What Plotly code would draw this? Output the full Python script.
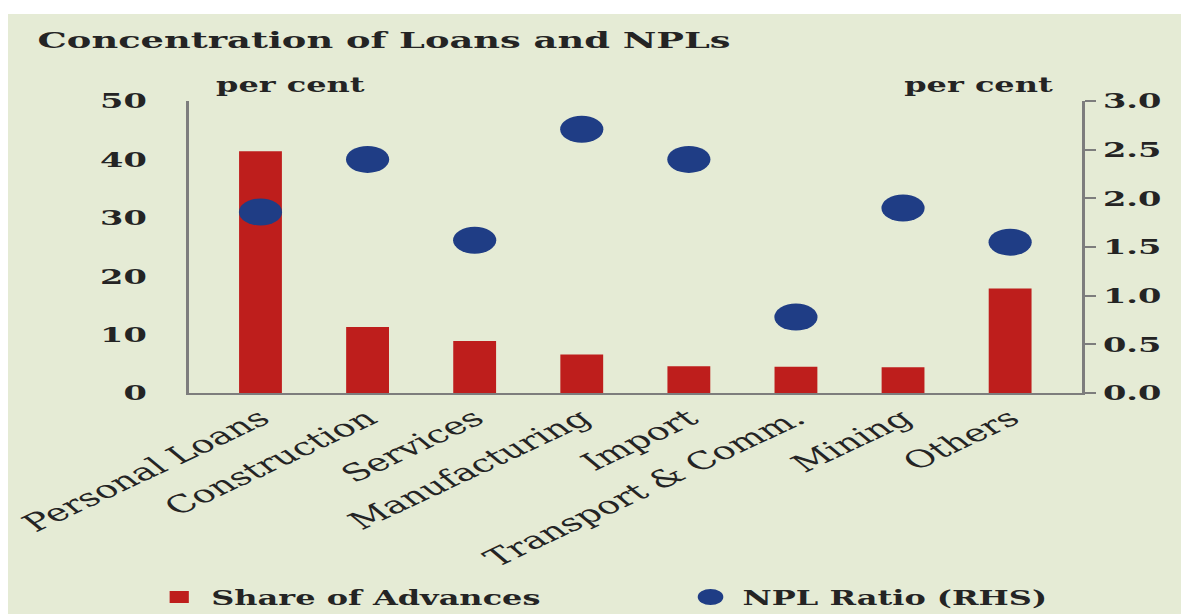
import plotly.graph_objects as go

# Sector data (per cent)
categories = ["Personal Loans", "Construction", "Services", "Manufacturing",
              "Import", "Transport & Comm.", "Mining", "Others"]
share_of_advances = [41.4, 11.3, 8.9, 6.6, 4.6, 4.5, 4.4, 17.9]
npl_ratio = [1.86, 2.40, 1.57, 2.71, 2.40, 0.78, 1.90, 1.55]

left_ticks = [0, 10, 20, 30, 40, 50]
right_ticks = [0.0, 0.5, 1.0, 1.5, 2.0, 2.5, 3.0]

# Page geometry: the chart is laid out narrow and widened horizontally
PAGE_W, PAGE_H = 1181, 614
SX = 1.6
W = round(PAGE_W / SX)

FONT = "DejaVu Serif"
TXT = "#242424"
AXIS = "#7d7d7d"
BG = "#E5EBD5"
RED = "#BE1E1C"
BLUE = "#1F3D85"

L, R, T, B = 118, W - 676, 101, PAGE_H - 393
pw = W - L - R
ph = PAGE_H - T - B


def px_x(x):
    return (x - L) / pw


def px_y(y):
    return (PAGE_H - B - y) / ph


fig = go.Figure()

fig.add_trace(go.Bar(
    x=categories, y=share_of_advances, name="Share of Advances",
    marker=dict(color=RED, line=dict(width=0)),
    yaxis="y", legend="legend", showlegend=True,
))

fig.add_trace(go.Scatter(
    x=categories, y=npl_ratio, name="NPL Ratio (RHS)", mode="markers",
    marker=dict(color=BLUE, size=27, line=dict(width=0)),
    yaxis="y2", legend="legend2", showlegend=True,
))

legend_font = dict(family=FONT, size=20, color=TXT, weight="bold")

fig.update_layout(
    width=W, height=PAGE_H,
    margin=dict(l=L, r=R, t=T, b=B, pad=0, autoexpand=False),
    paper_bgcolor="white",
    plot_bgcolor="rgba(0,0,0,0)",
    font=dict(family=FONT, color=TXT),
    bargap=0.6,
    showlegend=True,
    title=dict(
        text="<b>Concentration of Loans and NPLs</b>",
        x=23.5 / W, xanchor="left", xref="container",
        y=1 - 40 / PAGE_H, yanchor="middle", yref="container",
        font=dict(family=FONT, size=23, color=TXT),
    ),
    xaxis=dict(
        showline=True, linecolor=AXIS, linewidth=2, automargin=False,
        ticks="", showgrid=False, tickangle=-37,
        tickfont=dict(family=FONT, size=24, color=TXT),
    ),
    yaxis=dict(
        range=[0, 50], tickvals=left_ticks, automargin=False,
        showline=True, linecolor=AXIS, linewidth=2,
        ticks="", showgrid=False, zeroline=False,
        ticklabelstandoff=20,
        tickfont=dict(family=FONT, size=21, color=TXT, weight="bold"),
    ),
    yaxis2=dict(
        range=[0, 3], tickvals=right_ticks, tickformat=".1f",
        overlaying="y", side="right", automargin=False,
        showline=True, linecolor=AXIS, linewidth=2,
        ticks="outside", ticklen=7, tickwidth=2, tickcolor=AXIS,
        showgrid=False, zeroline=False,
        tickfont=dict(family=FONT, size=21, color=TXT, weight="bold"),
    ),
    legend=dict(
        visible=True, orientation="h", x=px_x(92), xanchor="left",
        y=px_y(597), yanchor="middle",
        bgcolor="rgba(0,0,0,0)", font=legend_font,
    ),
    legend2=dict(
        visible=True, orientation="h", x=px_x(424), xanchor="left",
        y=px_y(597), yanchor="middle",
        bgcolor="rgba(0,0,0,0)", font=legend_font,
    ),
    shapes=[dict(
        type="rect", xref="paper", yref="paper", layer="below",
        x0=px_x(5), x1=px_x(W + 20), y0=px_y(PAGE_H + 20), y1=px_y(14),
        fillcolor=BG, line=dict(width=0),
    )],
    annotations=[
        dict(text="<b>per cent</b>", xref="paper", yref="paper",
             x=px_x(133), xanchor="left", y=px_y(85), yanchor="middle",
             showarrow=False, font=dict(family=FONT, size=20, color=TXT)),
        dict(text="<b>per cent</b>", xref="paper", yref="paper",
             x=px_x(661), xanchor="right", y=px_y(85), yanchor="middle",
             showarrow=False, font=dict(family=FONT, size=20, color=TXT)),
    ],
)

# Widen the rendered chart to the full page width
post = ("var gd=document.getElementById('{plot_id}');"
        "gd.style.transformOrigin='0 0';"
        "gd.style.transform='scaleX(" + str(PAGE_W / W) + ")';")

fig.write_html("out.html", post_script=post, config={"displayModeBar": False})
